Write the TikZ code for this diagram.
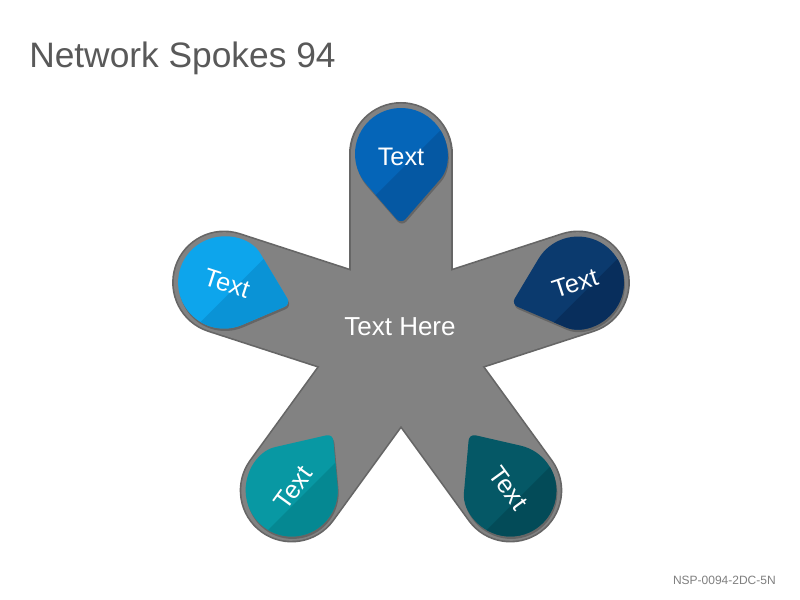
\documentclass[tikz,border=0pt]{standalone}
\usepackage{fontspec}
\setmainfont{Liberation Sans}
\usetikzlibrary{calc}
\definecolor{titlegray}{HTML}{595959}
\definecolor{footgray}{HTML}{7F7F7F}
\definecolor{starfill}{HTML}{828282}
\definecolor{staredge}{HTML}{666666}
\definecolor{pAl}{HTML}{0565B8}\definecolor{pAd}{HTML}{0558A3}
\definecolor{pBl}{HTML}{0DA5EC}\definecolor{pBd}{HTML}{0A93D6}
\definecolor{pCl}{HTML}{0B3A6E}\definecolor{pCd}{HTML}{082E5C}
\definecolor{pDl}{HTML}{0898A3}\definecolor{pDd}{HTML}{058892}
\definecolor{pEl}{HTML}{055866}\definecolor{pEd}{HTML}{034B58}
\tikzset{
  titletext/.style={font=\fontsize{26.5pt}{30pt}\selectfont, text=titlegray, anchor=base west, inner sep=0pt},
  foottext/.style={font=\fontsize{9pt}{11pt}\selectfont, text=footgray, anchor=east, inner sep=0pt},
  pintext/.style={font=\fontsize{19pt}{22pt}\selectfont, text=white, inner sep=0pt},
  centertext/.style={font=\fontsize{19.5pt}{23pt}\selectfont, text=white, inner sep=0pt},
  spokeedge/.style={draw=staredge, line width=78pt, line cap=round},
  spokefill/.style={draw=starfill, line width=75.5pt, line cap=round},
}
% teardrop path in local coordinates, tip toward +x
\newcommand\droppath{(30.2,-34.7) [rounded corners=5pt] -- (70,0) -- (30.2,34.7) [sharp corners] arc[start angle=48.96, end angle=311.04, radius=46] -- cycle}
% #1 name, #2 angle of spoke, #3 light, #4 dark, #5 text rotation
\newcommand\drawpin[5]{%
  \begin{scope}[shift={(#1)}]
    \fill[black, opacity=0.22, shift={(1,-2.5)}, rotate=#2+180] \droppath;
    \begin{scope}
      \clip[rotate=#2+180] \droppath;
      \fill[#3] (-90,-90) rectangle (90,90);
      \fill[#4] (-78,-94) -- (94,78) -- (94,-94) -- cycle;
    \end{scope}
    \node[pintext, rotate=#5] (#1txt) at (#2+180:3) {Text};
  \end{scope}}
\begin{document}
\begin{tikzpicture}[x=0.75pt,y=0.75pt]
\fill[white] (0,0) rectangle (800,600);
\useasboundingbox (0,0) rectangle (800,600);
\coordinate (C) at (401,260);
\foreach \a/\n in {90/pA,162/pB,18/pC,234/pD,306/pE}{
  \coordinate (\n) at ($(C)+(\a:186)$);
}
% star outline and fill
\foreach \n in {pA,pB,pC,pD,pE}{ \draw[spokeedge] (C) -- (\n); }
\foreach \n in {pA,pB,pC,pD,pE}{ \draw[spokefill] (C) -- (\n); }
% pins
\drawpin{pA}{90}{pAl}{pAd}{0}
\drawpin{pB}{162}{pBl}{pBd}{-18}
\drawpin{pC}{18}{pCl}{pCd}{18}
\drawpin{pD}{234}{pDl}{pDd}{54}
\drawpin{pE}{306}{pEl}{pEd}{-54}
% center text
\node[centertext] (center) at (400,273) {Text Here};
% title and footer
\node[titletext] (title) at (29,532) {Network Spokes 94};
\node[foottext] (foot) at (776,20) {NSP-0094-2DC-5N};
\end{tikzpicture}
\end{document}
